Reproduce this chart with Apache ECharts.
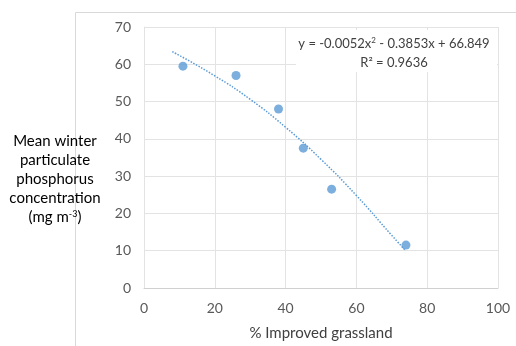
<!DOCTYPE html>
<html>
<head>
<meta charset="utf-8">
<script src="https://cdn.jsdelivr.net/npm/echarts@6/dist/echarts.min.js"></script>
<style>
  html, body { margin: 0; padding: 0; background: #fff; }
  #main { width: 516px; height: 346px; }
</style>
</head>
<body>
<div id="main"></div>
<script>
// observed points: % improved grassland vs mean winter particulate P
const grassland = [11, 26, 38, 45, 53, 74];
const phosphorus = [59.5, 57, 48, 37.5, 26.5, 11.5];

// polynomial trendline
const trendX = [8, 20, 30, 40, 50, 60, 70, 74];
const trendY = [63.4, 56.9, 50.6, 43.1, 34.5, 24.8, 14.1, 9.9];

const xTicks = [0, 20, 40, 60, 80, 100];
const yTicks = [0, 10, 20, 30, 40, 50, 60, 70];

const equationText = 'y = -0.0052x{sup|2} - 0.3853x + 66.849';
const r2Text = 'R² = 0.9636';

const chart = echarts.init(document.getElementById('main'));
const font = 'Lato';
const blue = '#5b9bd5';

const option = {
  animation: false,
  grid: { left: 144, right: 18, top: 27, bottom: 58 },
  xAxis: {
    type: 'value',
    min: xTicks[0],
    max: xTicks[xTicks.length - 1],
    interval: 20,
    name: '% Improved grassland',
    nameLocation: 'middle',
    nameGap: 38,
    nameTextStyle: { fontFamily: font, fontSize: 15, color: '#404040' },
    axisLine: { lineStyle: { color: '#d0d0d0' } },
    axisTick: { show: false },
    axisLabel: { fontFamily: font, fontSize: 14, color: '#595959', margin: 13 },
    splitLine: { lineStyle: { color: '#e3e3e3' } }
  },
  yAxis: {
    type: 'value',
    min: yTicks[0],
    max: yTicks[yTicks.length - 1],
    interval: 10,
    axisLine: { show: true, lineStyle: { color: '#e3e3e3' } },
    axisTick: { show: false },
    axisLabel: { fontFamily: font, fontSize: 14, color: '#595959', margin: 13 },
    splitLine: { lineStyle: { color: '#e3e3e3' } }
  },
  series: [
    {
      type: 'line',
      data: trendX.map((x, i) => [x, trendY[i]]),
      smooth: true,
      symbol: 'none',
      lineStyle: { color: blue, width: 1.5, type: 'dotted' },
      z: 2
    },
    {
      type: 'scatter',
      data: grassland.map((x, i) => [x, phosphorus[i]]),
      symbolSize: 9,
      itemStyle: { color: blue },
      z: 3
    }
  ],
  graphic: [
    {
      type: 'rect',
      shape: { x: 75.5, y: 12.5, width: 460, height: 360 },
      style: { fill: 'none', stroke: '#d9d9d9', lineWidth: 1 },
      z: -1
    },
    {
      type: 'rect',
      shape: { x: 296, y: 30, width: 201, height: 42 },
      style: { fill: '#fff' },
      z: 10
    },
    {
      type: 'text',
      x: 394, y: 34,
      style: {
        text: equationText + '\n' + r2Text,
        align: 'center',
        fontFamily: font, fontSize: 13, lineHeight: 19, fill: '#404040',
        rich: { sup: { fontFamily: font, fontSize: 8, padding: [0, 0, 6, 0], fill: '#404040' } }
      },
      z: 11
    },
    {
      type: 'text',
      x: 55, y: 132,
      style: {
        text: 'Mean winter\nparticulate\nphosphorus\nconcentration\n(mg m{sup|-3})',
        align: 'center',
        fontFamily: font, fontSize: 15, lineHeight: 19, fill: '#000',
        rich: { sup: { fontFamily: font, fontSize: 9, padding: [0, 0, 7, 0], fill: '#000' } }
      },
      z: 11
    }
  ]
};

chart.setOption(option);
</script>
</body>
</html>
